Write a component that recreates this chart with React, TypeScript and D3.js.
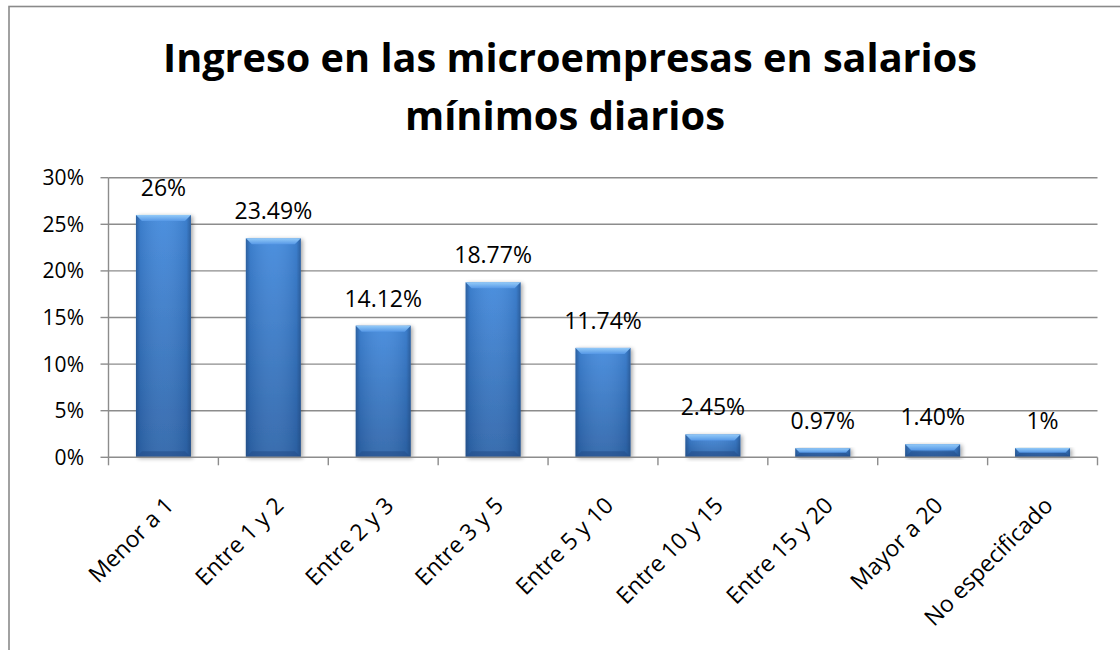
import * as d3 from "d3";

const categories = [
  "Menor a 1",
  "Entre 1 y 2",
  "Entre 2 y 3",
  "Entre 3 y 5",
  "Entre 5 y 10",
  "Entre 10 y 15",
  "Entre 15 y 20",
  "Mayor a 20",
  "No especificado",
];
const values = [26, 23.49, 14.12, 18.77, 11.74, 2.45, 0.97, 1.4, 1];
const valueLabels = ["26%", "23.49%", "14.12%", "18.77%", "11.74%", "2.45%", "0.97%", "1.40%", "1%"];
const yTicks = [0, 5, 10, 15, 20, 25, 30];
const titleLines = ["Ingreso en las microempresas en salarios", "mínimos diarios"];

const font = "'Open Sans', 'DejaVu Sans', sans-serif";

export default function App() {
  const width = 1120;
  const height = 650;
  const plot = { left: 108.5, right: 1097.5, top: 177.7, bottom: 457.3 };

  const x = d3.scaleBand().domain(categories).range([plot.left, plot.right]).paddingInner(0.5).paddingOuter(0.25);
  const y = d3.scaleLinear().domain([0, 30]).range([plot.bottom, plot.top]);
  const bw = x.bandwidth();
  const step = x.step();

  return (
    <svg
      width={width}
      height={height}
      style={{ position: "absolute", left: 0, top: 0, background: "#fff" }}
      fontFamily={font}
    >
      <defs>
        <linearGradient id="barV" x1="0" y1="0" x2="0" y2="1">
          <stop offset="0%" stopColor="#4289dc" />
          <stop offset="100%" stopColor="#2d64a9" />
        </linearGradient>
        <linearGradient id="barH" x1="0" y1="0" x2="1" y2="0">
          <stop offset="0%" stopColor="#1c3f6e" stopOpacity={0.55} />
          <stop offset="8%" stopColor="#1c3f6e" stopOpacity={0.15} />
          <stop offset="50%" stopColor="#ffffff" stopOpacity={0.06} />
          <stop offset="92%" stopColor="#1c3f6e" stopOpacity={0.15} />
          <stop offset="100%" stopColor="#1c3f6e" stopOpacity={0.55} />
        </linearGradient>
        <linearGradient id="bevelTop" x1="0" y1="0" x2="0" y2="1">
          <stop offset="0%" stopColor="#93caf8" />
          <stop offset="100%" stopColor="#5698e6" />
        </linearGradient>
        <filter id="shadow" x="-20%" y="-20%" width="140%" height="140%">
          <feGaussianBlur in="SourceAlpha" stdDeviation="2" />
          <feOffset dx="2" dy="1" result="b" />
          <feComponentTransfer>
            <feFuncA type="linear" slope="0.35" />
          </feComponentTransfer>
          <feMerge>
            <feMergeNode />
            <feMergeNode in="SourceGraphic" />
          </feMerge>
        </filter>
      </defs>

      {/* chart frame */}
      <rect x={9} y={6.5} width={1200} height={700} fill="none" stroke="#8a8a8a" strokeWidth={1.6} />

      {/* title */}
      <g fontWeight={700} fontSize={40} textAnchor="middle" fill="#000">
        <text x={570} y={72} textLength={814} lengthAdjust="spacingAndGlyphs">
          {titleLines[0]}
        </text>
        <text x={565} y={130} textLength={320} lengthAdjust="spacingAndGlyphs">
          {titleLines[1]}
        </text>
      </g>

      {/* gridlines and y axis */}
      <g>
        {yTicks.map((t) => (
          <g key={t}>
            {t > 0 && (
              <line x1={plot.left} x2={plot.right} y1={y(t)} y2={y(t)} stroke="#8c8c8c" strokeWidth={1.4} />
            )}
            <line x1={plot.left - 8} x2={plot.left} y1={y(t)} y2={y(t)} stroke="#8c8c8c" strokeWidth={1.4} />
            <text x={84} y={y(t)} dy="0.36em" textAnchor="end" fontSize={21} fill="#000">
              {t}%
            </text>
          </g>
        ))}
        <line x1={plot.left} x2={plot.left} y1={plot.top} y2={plot.bottom} stroke="#8c8c8c" strokeWidth={1.4} />
      </g>

      {/* bars */}
      <g>
        {categories.map((c, i) => {
          const x0 = x(c) as number;
          const y0 = y(values[i]);
          const h = plot.bottom - y0;
          const bev = Math.min(6, h / 2);
          return (
            <g key={c}>
              <rect x={x0} y={y0} width={bw} height={h} fill="url(#barV)" filter="url(#shadow)" />
              <rect x={x0} y={y0} width={bw} height={h} fill="url(#barH)" />
              <path
                d={`M${x0},${y0}L${x0 + bw},${y0}L${x0 + bw - bev},${y0 + bev}L${x0 + bev},${y0 + bev}Z`}
                fill="url(#bevelTop)"
              />
              <path
                d={`M${x0},${plot.bottom}L${x0 + bw},${plot.bottom}L${x0 + bw - bev},${plot.bottom - bev}L${x0 + bev},${plot.bottom - bev}Z`}
                fill="#244f8a"
                opacity={0.6}
              />
            </g>
          );
        })}
      </g>

      {/* x axis */}
      <g>
        <line x1={plot.left} x2={plot.right} y1={plot.bottom} y2={plot.bottom} stroke="#8c8c8c" strokeWidth={1.4} />
        {d3.range(categories.length + 1).map((k) => (
          <line
            key={k}
            x1={plot.left + k * step}
            x2={plot.left + k * step}
            y1={plot.bottom}
            y2={plot.bottom + 8}
            stroke="#8c8c8c"
            strokeWidth={1.4}
          />
        ))}
        {categories.map((c) => {
          const cx = (x(c) as number) + bw / 2;
          return (
            <text
              key={c}
              transform={`translate(${cx},${plot.bottom + 38}) rotate(-45)`}
              textAnchor="end"
              dy="0.72em"
              fontSize={23}
              fill="#000"
            >
              {c}
            </text>
          );
        })}
      </g>

      {/* data labels */}
      <g textAnchor="middle" fontSize={23} fill="#000">
        {categories.map((c, i) => (
          <text key={c} x={(x(c) as number) + bw / 2} y={y(values[i]) - 19}>
            {valueLabels[i]}
          </text>
        ))}
      </g>
    </svg>
  );
}
